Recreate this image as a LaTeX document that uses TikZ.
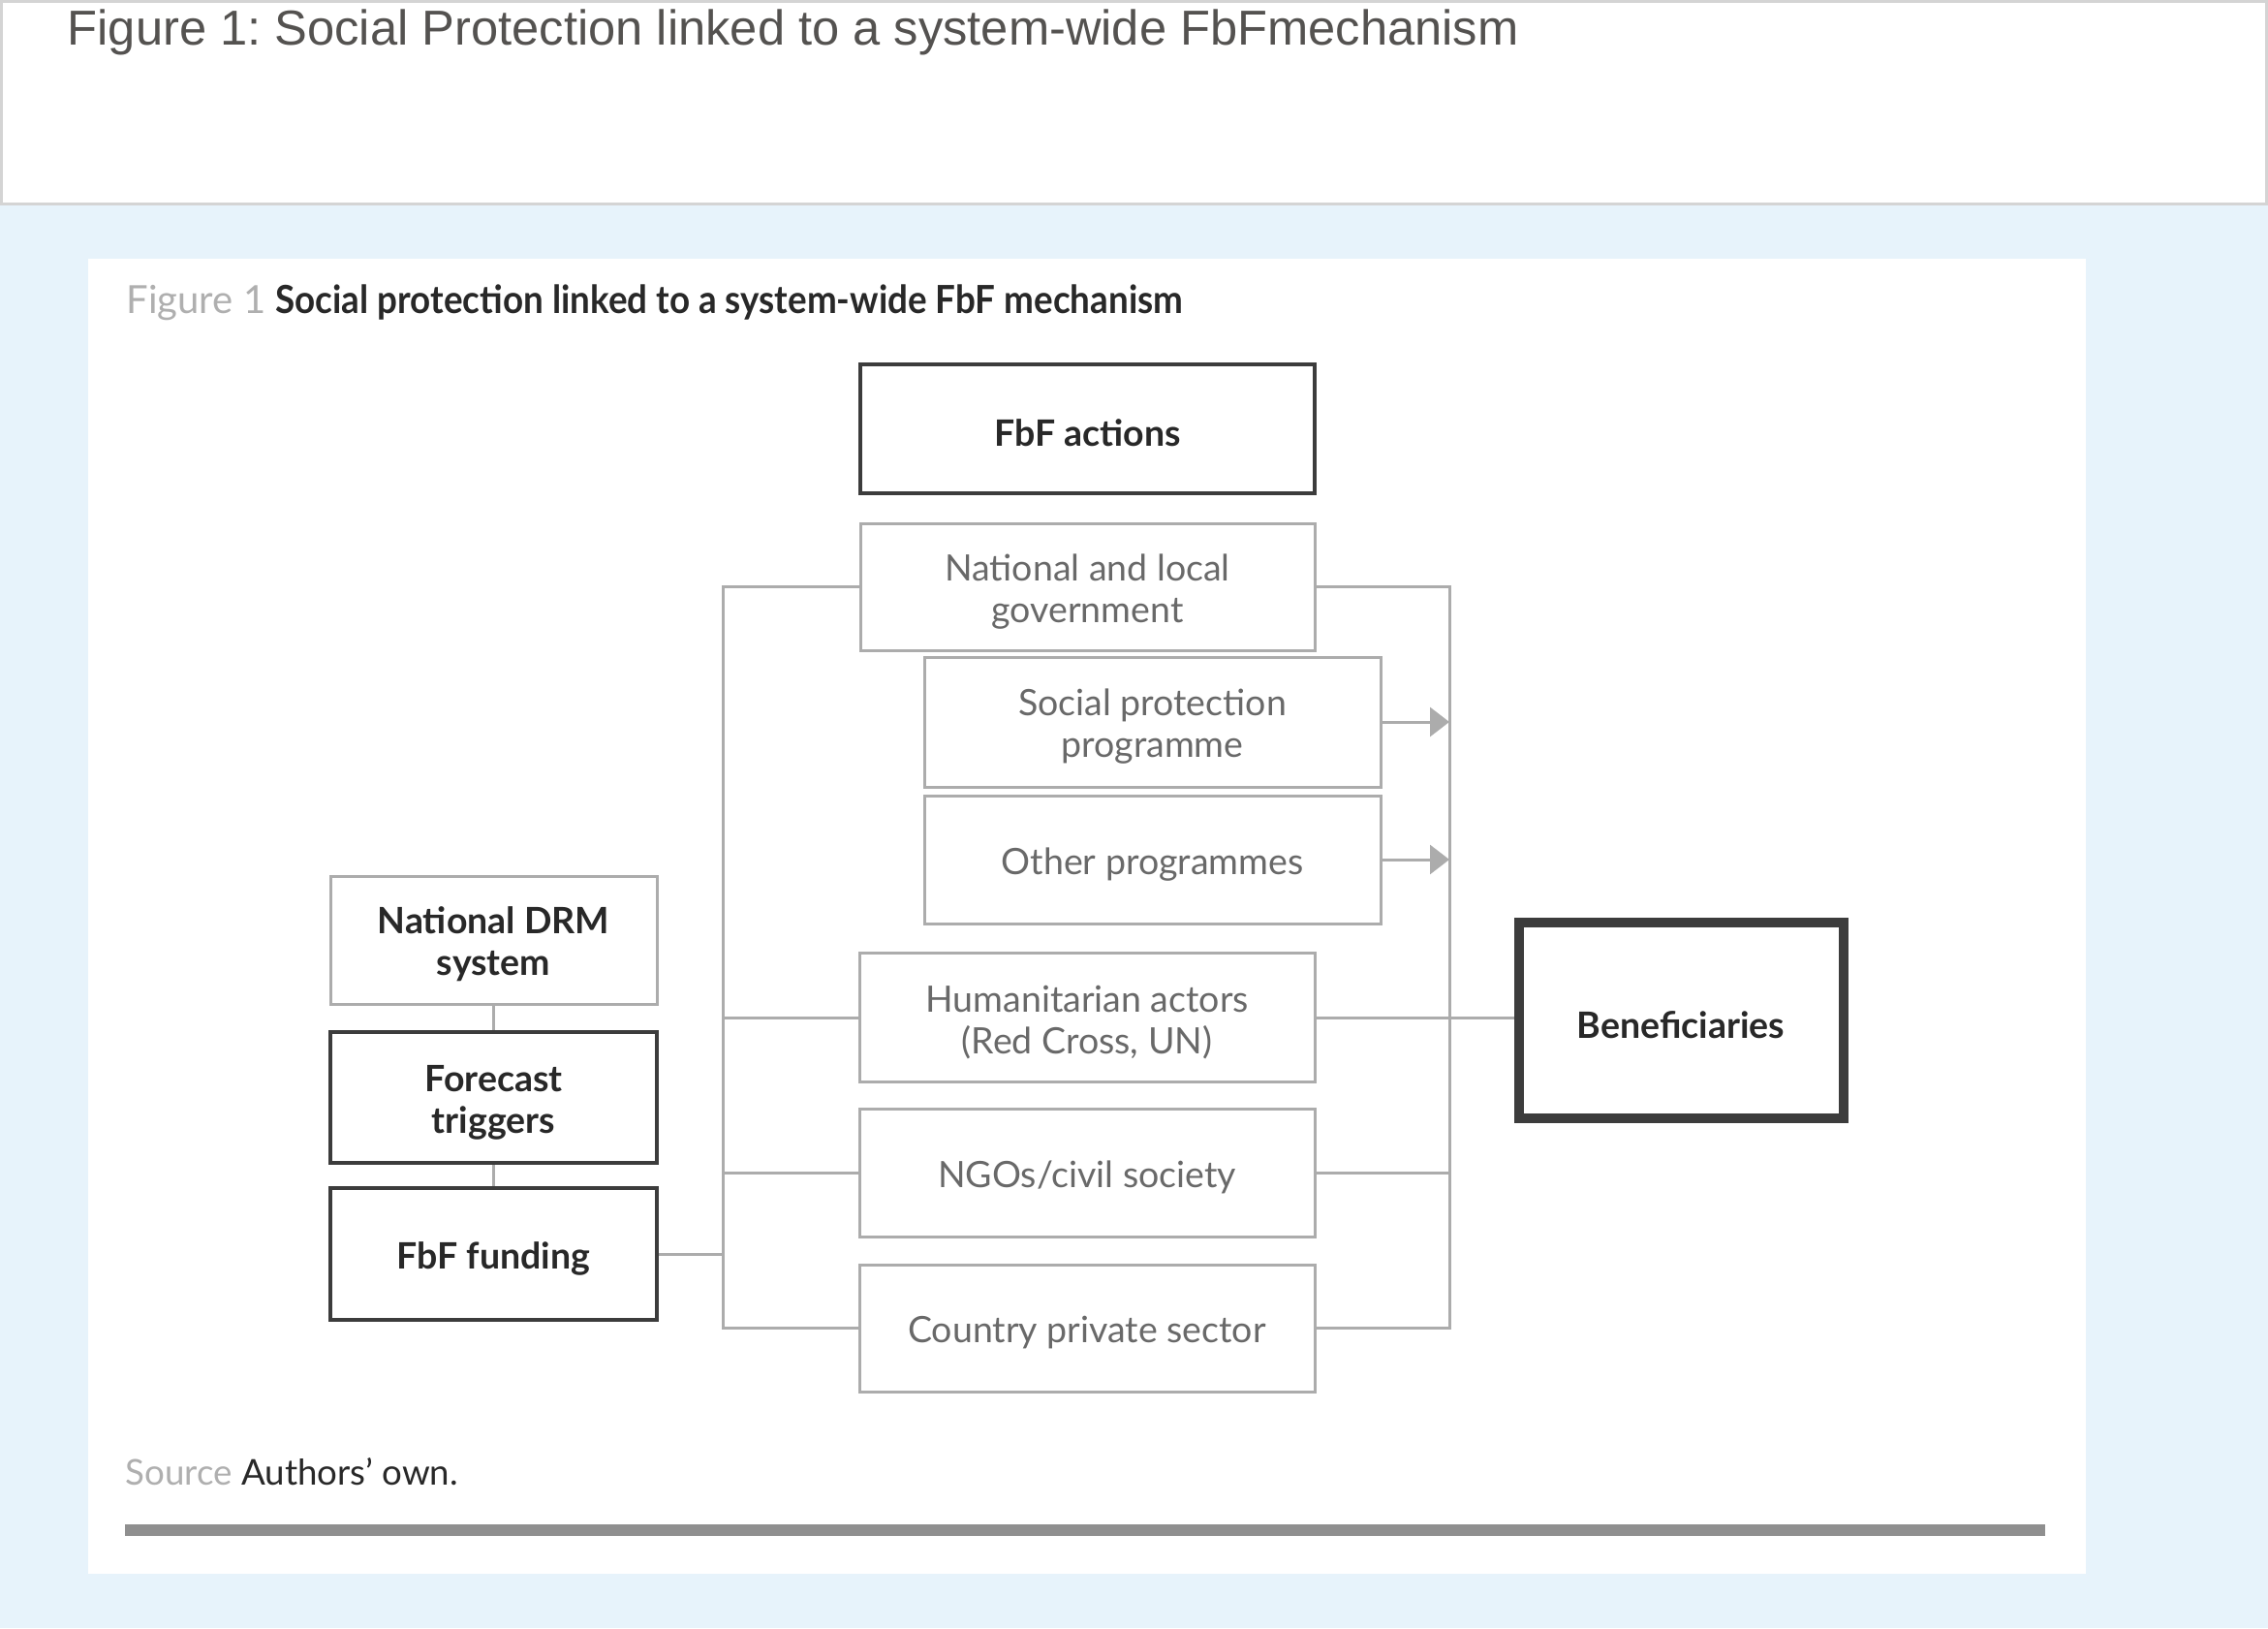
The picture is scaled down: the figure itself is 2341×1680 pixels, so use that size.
\documentclass[tikz,border=0pt]{standalone}
\usepackage{fontspec}
\setmainfont{Lato}
\newfontfamily\arialf{Liberation Sans}
\newfontfamily\condbold[FakeStretch=0.92]{Lato Bold}
\usetikzlibrary{arrows.meta}
\definecolor{bgblue}{RGB}{231,243,251}
\definecolor{hdrline}{RGB}{212,212,212}
\definecolor{ttl}{RGB}{84,82,80}
\definecolor{boxgrey}{RGB}{172,172,172}
\definecolor{boxdark}{RGB}{60,60,60}
\definecolor{txtgrey}{RGB}{105,105,105}
\definecolor{txtdark}{RGB}{40,40,40}
\definecolor{rulegrey}{RGB}{143,143,143}
\definecolor{lightlbl}{RGB}{175,175,175}
\newcommand\lift{\rule{0pt}{11.1pt}}
\frenchspacing
\begin{document}
\begin{tikzpicture}[x=0.3pt,y=-0.3pt,
  lightbox/.style={draw=boxgrey,line width=0.9pt,fill=white,align=center,text=txtgrey,font=\fontsize{11.25}{12.9}\selectfont,inner sep=0pt},
  darkbox/.style={draw=boxdark,line width=1.4pt,fill=white,align=center,text=txtdark,font=\fontsize{11.25}{12.9}\selectfont\bfseries,inner sep=0pt},
  link/.style={draw=boxgrey,line width=0.9pt},
  tip/.style={-{Triangle[length=6pt,width=9pt]}},
  ]
\useasboundingbox (0,0) rectangle (2341,1680);
\fill[bgblue] (0,0) rectangle (2341,1680);
\draw[hdrline,line width=0.9pt,fill=white] (1.5,1.5) rectangle (2339.5,211);
\node[anchor=base west,inner sep=0pt,text=ttl,font=\arialf\fontsize{15.2}{18}\selectfont] (maintitle) at (69,47) {Figure 1: Social Protection linked to a system-wide FbFmechanism};
\fill[white] (91,267) rectangle (2153,1624);
\node[anchor=base west,inner sep=0pt,font=\fontsize{12}{14}\selectfont] (figtitle) at (130,324) {\textcolor{lightlbl}{Figure 1} \textcolor{txtdark}{\condbold Social protection linked to a system-wide FbF mechanism}};
\node[anchor=base west,inner sep=0pt,font=\fontsize{11}{13}\selectfont] (source) at (129,1532) {\textcolor{lightlbl}{Source} \textcolor{txtdark}{Authors' own.}};
\draw[rulegrey,line width=3.6pt] (129,1579) -- (2111,1579);

% boxes
\node[darkbox,minimum width=140.7pt,minimum height=39.9pt] (fbfact) at (1122.5,442.5) {\lift FbF actions};
\node[lightbox,minimum width=140.7pt,minimum height=39.3pt] (gov) at (1122.5,605.5) {\lift National and local\\government};
\node[lightbox,minimum width=141.3pt,minimum height=40.2pt] (sp) at (1189.5,745) {\lift Social protection\\programme};
\node[lightbox,minimum width=141.3pt,minimum height=39.6pt] (other) at (1189.5,887) {\lift Other programmes};
\node[lightbox,minimum width=141pt,minimum height=39.9pt] (hum) at (1122,1050) {\lift Humanitarian actors\\(Red Cross, UN)};
\node[lightbox,minimum width=141pt,minimum height=39.6pt] (ngo) at (1122,1210) {\lift NGOs/civil society};
\node[lightbox,minimum width=141pt,minimum height=39.3pt] (country) at (1122,1370.5) {\lift Country private sector};
\node[lightbox,minimum width=101.1pt,minimum height=39.6pt,text=txtdark,font=\fontsize{11.25}{12.9}\selectfont\bfseries] (drm) at (509.5,970) {\lift National DRM\\system};
\node[darkbox,minimum width=101.1pt,minimum height=40.5pt] (forecast) at (509.5,1132.5) {\lift Forecast\\triggers};
\node[darkbox,minimum width=101.1pt,minimum height=40.8pt] (funding) at (509.5,1294) {\lift FbF funding};
\node[darkbox,line width=3pt,minimum width=100.5pt,minimum height=60.5pt] (benef) at (1735,1053) {\lift Beneficiaries};

% bus coordinates
\coordinate (lb) at (746,1370.5);
\coordinate (rb) at (1496,1370.5);

% connectors
\draw[link] (gov.west) -| (lb) -- (country.west);
\draw[link] (gov.east) -| (rb) -- (country.east);
\draw[link] (hum.west) -- (hum.west -| lb);
\draw[link] (ngo.west) -- (ngo.west -| lb);
\draw[link] (funding.east) -- (funding.east -| lb);
\draw[link] (hum.east) -- (hum.east -| benef.west);
\draw[link] (ngo.east) -- (ngo.east -| rb);
\draw[link,tip] (sp.east) -- (sp.east -| rb);
\draw[link,tip] (other.east) -- (other.east -| rb);
\draw[link] (drm.south) -- (forecast.north);
\draw[link] (forecast.south) -- (funding.north);
\end{tikzpicture}
\end{document}
